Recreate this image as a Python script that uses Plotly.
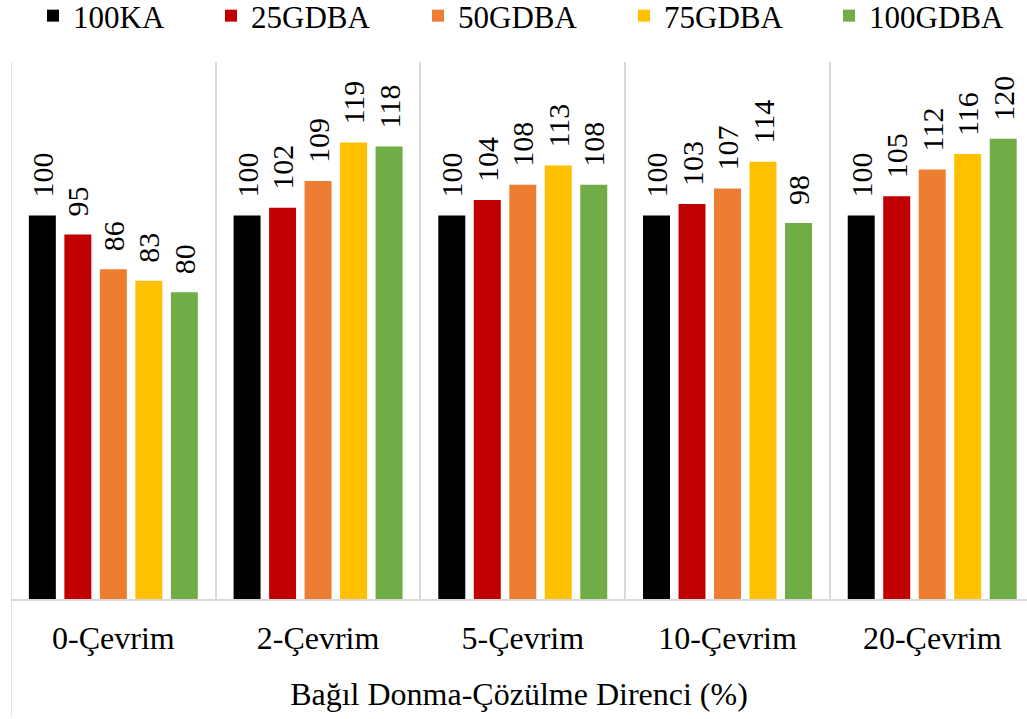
import plotly.graph_objects as go

# Relative freeze-thaw resistance (%) per cycle count and mix
categories = ["0-Çevrim", "2-Çevrim", "5-Çevrim", "10-Çevrim", "20-Çevrim"]
series_names = ["100KA", "25GDBA", "50GDBA", "75GDBA", "100GDBA"]
ka100 = [100, 100, 100, 100, 100]
gdba25 = [95, 102, 104, 103, 105]
gdba50 = [86, 109, 108, 107, 112]
gdba75 = [83, 119, 113, 114, 116]
gdba100 = [80, 118, 108, 98, 120]
colors = ["#000000", "#C00000", "#ED7D31", "#FFC000", "#70AD47"]
axis_title = "Bağıl Donma-Çözülme Direnci (%)"

FONT = "Liberation Serif, Tinos, Times New Roman, DejaVu Serif, serif"
label_font = dict(family=FONT, size=30, color="#000000")

# one legend box per series so the entries sit on a fixed, even spacing
legend_ids = ["legend", "legend2", "legend3", "legend4", "legend5"]
legend_x_px = [33, 211, 418, 624, 829]

fig = go.Figure()
for name, vals, col, lid in zip(series_names, [ka100, gdba25, gdba50, gdba75, gdba100],
                                colors, legend_ids):
    fig.add_trace(go.Bar(
        x=categories, y=vals, name=name, legend=lid,
        marker=dict(color=col, line=dict(width=0)),
        text=vals,
        texttemplate="\u00a0\u00a0%{text}",
        textposition="outside", textangle=-90,
        constraintext="none", cliponaxis=False,
        textfont=label_font, outsidetextfont=label_font,
    ))

legend_layout = {}
for lid, px in zip(legend_ids, legend_x_px):
    legend_layout[lid] = dict(
        orientation="h", xref="container", yref="container",
        x=px / 1027, xanchor="left", y=1 - 16 / 719, yanchor="middle",
        font=dict(family=FONT, size=31, color="#000000"),
        bgcolor="rgba(0,0,0,0)", borderwidth=0, itemclick=False,
    )

fig.update_layout(
    width=1027, height=719,
    margin=dict(l=11, r=0, t=62, b=120, autoexpand=False),
    paper_bgcolor="white", plot_bgcolor="white",
    barmode="group", bargap=0.133, bargroupgap=0.24,
    font=dict(family=FONT, size=32, color="#000000"),
    showlegend=True,
    xaxis=dict(
        type="category", range=[-0.5, 4.463],
        tickson="boundaries", ticks="", showgrid=True,
        gridcolor="#d9d9d9", gridwidth=1.5,
        showline=True, linecolor="#d9d9d9", linewidth=1.5,
        ticklabelstandoff=10,
        tickfont=dict(family=FONT, size=32, color="#000000"),
        title=dict(text=axis_title, standoff=27,
                   font=dict(family=FONT, size=32, color="#000000")),
    ),
    yaxis=dict(range=[0, 140], visible=False, showgrid=False, zeroline=False),
    **legend_layout,
)

# left border of the category area, running down past the axis
fig.add_shape(type="line", xref="x", yref="paper",
              x0=-0.5, x1=-0.5, y0=-0.22, y1=1.0,
              line=dict(color="#d9d9d9", width=1.5), layer="below")

fig.write_html("out.html")
